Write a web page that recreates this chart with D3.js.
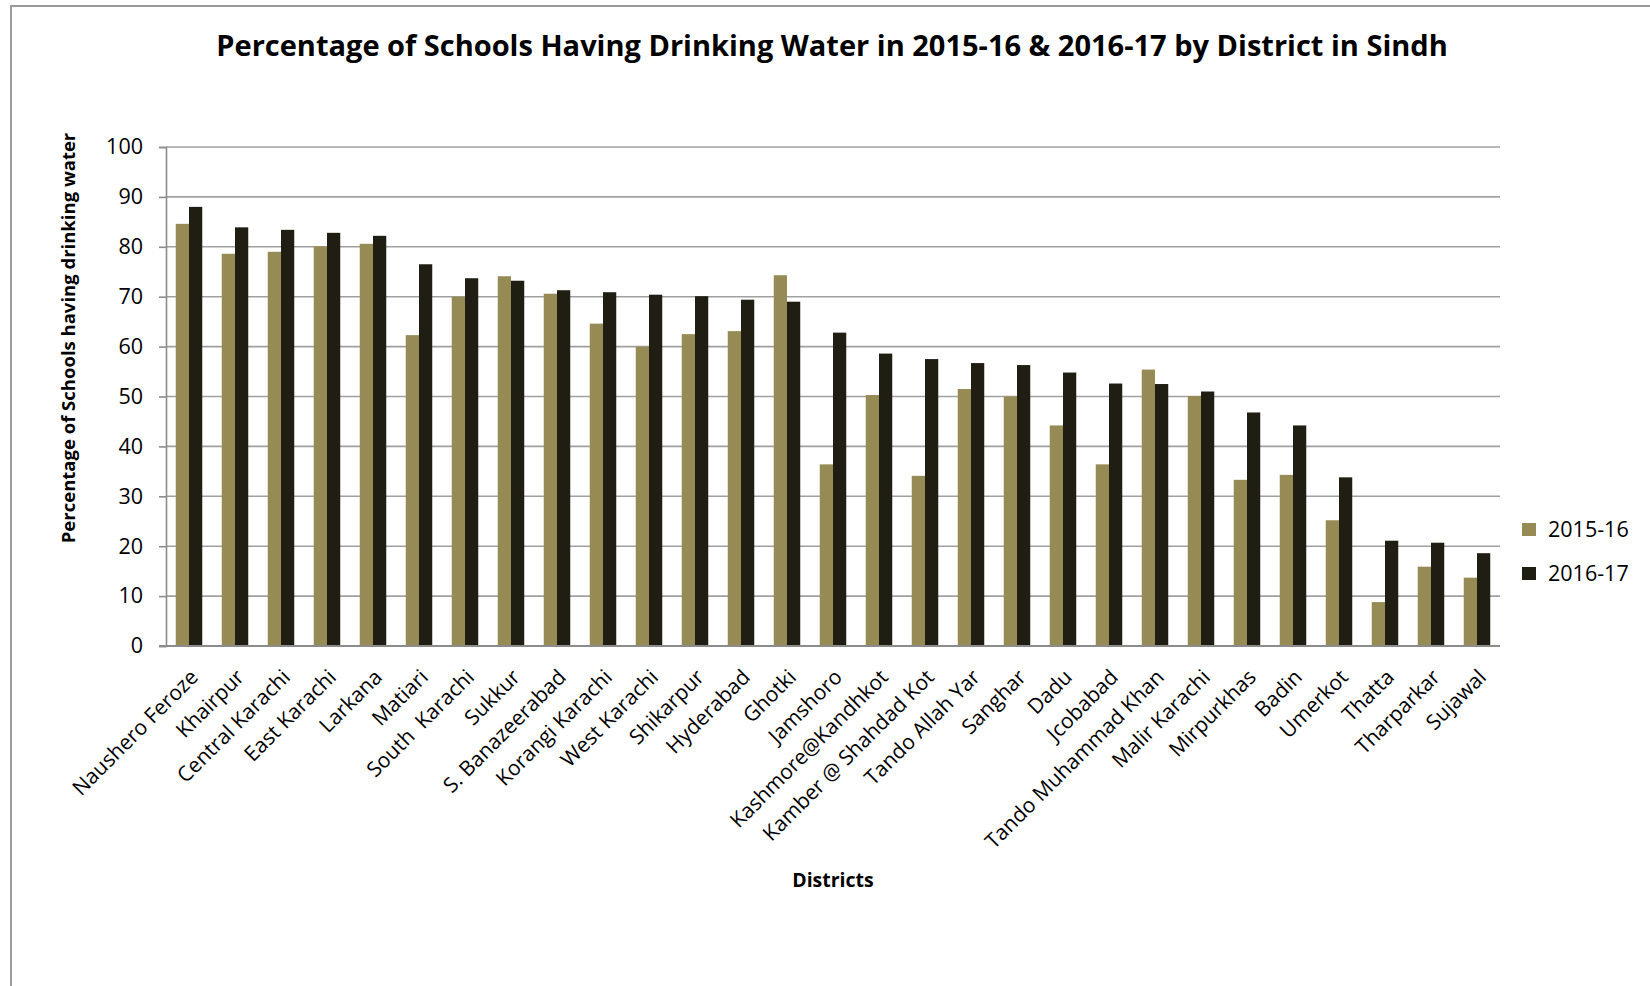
<!DOCTYPE html>
<html>
<head>
<meta charset="utf-8">
<script src="https://cdn.jsdelivr.net/npm/d3@7"></script>
<style>
  html, body { margin: 0; padding: 0; background: #fff; }
  svg { display: block; }
  text { font-family: "Open Sans", "Liberation Sans", sans-serif; fill: #000; white-space: pre; }
</style>
</head>
<body>
<script>
const districts = ["Naushero Feroze","Khairpur","Central Karachi","East Karachi","Larkana","Matiari","South  Karachi","Sukkur","S. Banazeerabad","Korangi Karachi","West Karachi","Shikarpur","Hyderabad","Ghotki","Jamshoro","Kashmore@Kandhkot","Kamber @ Shahdad Kot","Tando Allah Yar","Sanghar","Dadu","Jcobabad","Tando Muhammad Khan","Malir Karachi","Mirpurkhas","Badin","Umerkot","Thatta","Tharparkar","Sujawal"];
const values2015 = [84.6,78.6,79.0,80.1,80.6,62.3,70.0,74.1,70.6,64.6,60.0,62.5,63.1,74.3,36.4,50.3,34.1,51.5,50.0,44.2,36.4,55.4,50.1,33.3,34.3,25.2,8.8,15.9,13.7];
const values2016 = [88.0,83.9,83.4,82.8,82.2,76.5,73.7,73.2,71.3,70.9,70.4,70.1,69.4,69.0,62.8,58.6,57.5,56.7,56.3,54.8,52.6,52.5,51.0,46.8,44.2,33.8,21.1,20.7,18.6];
const seriesNames = ["2015-16","2016-17"];
const seriesColors = ["#978b55","#201e13"];
const yTicks = [0,10,20,30,40,50,60,70,80,90,100];
const titleText = "Percentage of Schools Having Drinking Water in 2015-16 & 2016-17 by District in Sindh";
const yTitle = "Percentage of Schools having drinking water";
const xTitle = "Districts";

const W = 1650, H = 986;
const plot = {left: 166, right: 1500, top: 147, bottom: 646};

const svg = d3.select("body").append("svg").attr("width", W).attr("height", H);

// outer chart frame
svg.append("rect").attr("x", 11).attr("y", 6).attr("width", W + 20).attr("height", H + 20)
  .attr("fill", "none").attr("stroke", "#9a9a9a").attr("stroke-width", 2);

const x0 = d3.scaleBand().domain(districts).range([plot.left, plot.right]).paddingInner(0.424).paddingOuter(0.212);
const x1 = d3.scaleBand().domain(seriesNames).range([0, x0.bandwidth()]).padding(0);
const y = d3.scaleLinear().domain([0, 100]).range([plot.bottom, plot.top]);

// gridlines
svg.append("g").selectAll("line").data(yTicks.filter(d => d > 0)).join("line")
  .attr("x1", plot.left).attr("x2", plot.right)
  .attr("y1", d => y(d)).attr("y2", d => y(d))
  .attr("stroke", "#a0a0a0").attr("stroke-width", 1.6);

// y axis
const yAxis = d3.axisLeft(y).tickValues(yTicks).tickSize(7).tickPadding(16);
const gy = svg.append("g").attr("transform", `translate(${plot.left},0)`).call(yAxis);
gy.select(".domain").attr("stroke", "#8c8c8c").attr("stroke-width", 1.6);
gy.selectAll(".tick line").attr("stroke", "#8c8c8c").attr("stroke-width", 1.6);
gy.selectAll(".tick text").attr("font-size", 21.5).attr("font-family", "Open Sans").attr("fill", "#000");

// bars
const rows = districts.map((d, i) => ({d, vals: [values2015[i], values2016[i]]}));
const groups = svg.append("g").selectAll("g").data(rows).join("g")
  .attr("transform", r => `translate(${x0(r.d)},0)`);
groups.selectAll("rect").data(r => r.vals.map((v, k) => ({k, v}))).join("rect")
  .attr("x", e => x1(seriesNames[e.k]))
  .attr("width", x1.bandwidth())
  .attr("y", e => y(e.v))
  .attr("height", e => y(0) - y(e.v))
  .attr("fill", e => seriesColors[e.k]);

// x axis baseline + labels
const xAxis = d3.axisBottom(x0).tickSize(0).tickPadding(0);
const gx = svg.append("g").attr("transform", `translate(0,${plot.bottom})`).call(xAxis);
gx.select(".domain").attr("d", `M${plot.left - 7},0H${plot.right}`).attr("stroke", "#8c8c8c").attr("stroke-width", 2);
gx.selectAll(".tick text")
  .attr("font-size", 21).attr("font-family", "Open Sans").attr("fill", "#000")
  .attr("text-anchor", "end")
  .attr("transform", "translate(0,22) rotate(-45)")
  .attr("dy", "0.7em").attr("y", 0).attr("x", 0);

// title
svg.append("text").attr("x", 832).attr("y", 56).attr("text-anchor", "middle")
  .attr("font-size", 29).attr("font-weight", "bold").text(titleText);

// y title
svg.append("text").attr("transform", `translate(75,338) rotate(-90)`).attr("text-anchor", "middle")
  .attr("font-size", 18.5).attr("font-weight", "bold").text(yTitle);

// x title
svg.append("text").attr("x", 833).attr("y", 887).attr("text-anchor", "middle")
  .attr("font-size", 19.5).attr("font-weight", "bold").text(xTitle);

// legend
const lg = svg.append("g").selectAll("g").data(seriesNames).join("g")
  .attr("transform", (d, i) => `translate(1522,${523 + i * 44})`);
lg.append("rect").attr("width", 14).attr("height", 13).attr("fill", (d, i) => seriesColors[i]);
lg.append("text").attr("x", 26).attr("y", 6.5).attr("dy", "0.35em").attr("font-size", 21.5).text(d => d);
</script>
</body>
</html>
